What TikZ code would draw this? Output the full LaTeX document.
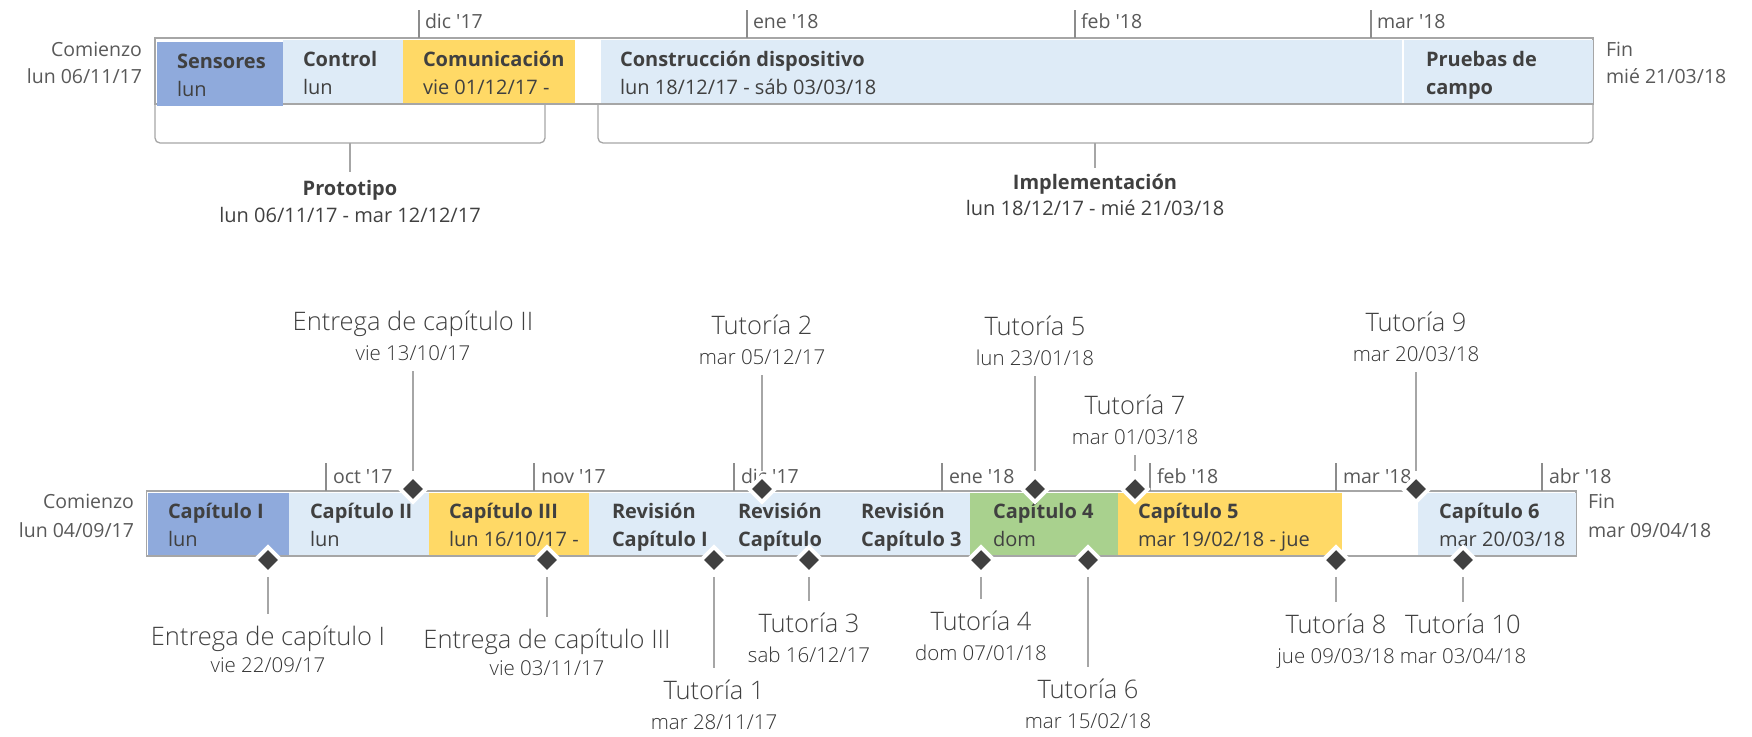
\documentclass[tikz,border=0pt]{standalone}
\usepackage{fontspec}
\setmainfont{Open Sans}[Ligatures=TeXOff]
\newfontfamily\lightfont{Open Sans Light}[Ligatures=TeXOff]
\usetikzlibrary{shapes.geometric}

\definecolor{ink}{HTML}{404040}
\definecolor{softink}{HTML}{595959}
\definecolor{rulegray}{HTML}{A6A6A6}
\definecolor{tickgray}{HTML}{8C8C8C}
\definecolor{msdark}{HTML}{404040}
\definecolor{taskblue}{HTML}{8FAADC}
\definecolor{tasklight}{HTML}{DEEBF7}
\definecolor{taskyellow}{HTML}{FFD966}
\definecolor{taskgreen}{HTML}{A9D18E}

\tikzset{
  every node/.style={text=ink, inner sep=0pt, outer sep=0pt},
  boxtitle/.style={font=\fontsize{20}{24}\selectfont\bfseries, anchor=base west},
  boxsub/.style={font=\fontsize{20}{24}\selectfont, anchor=base west},
  monthlbl/.style={font=\fontsize{19.5}{23}\selectfont, anchor=base west, text=softink},
  sidelbl/.style={font=\fontsize{19.5}{23}\selectfont, text=softink},
  grptitle/.style={font=\fontsize{20}{24}\selectfont\bfseries, anchor=base},
  grpdate/.style={font=\fontsize{20}{24}\selectfont, anchor=base},
  lbltitle/.style={font=\lightfont\fontsize{25.5}{30}\selectfont, anchor=base, text=ink},
  lbldate/.style={font=\lightfont\fontsize{20.5}{24}\selectfont, anchor=base, text=black!80},
  milestone/.style={diamond, fill=msdark, draw=white, line width=4pt,
    minimum width=25.7pt, minimum height=25.7pt, inner sep=0pt, outer sep=0pt},
  stemline/.style={draw=rulegray, line width=1.3pt},
  tickline/.style={draw=tickgray, line width=1.3pt},
  frameline/.style={draw=rulegray, line width=1.5pt},
}

\begin{document}
\begin{tikzpicture}[x=1pt, y=-1pt]
\useasboundingbox (0,0) rectangle (1752,736);

%% ---------------- Upper timeline ----------------
\draw[frameline] (155,38) rectangle (1593,104);
\fill[taskblue]   (157,42)  rectangle (283,106);
\fill[tasklight]  (283,40)  rectangle (403,103);
\fill[taskyellow] (403,40)  rectangle (575,103);
\fill[tasklight]  (601,40)  rectangle (1593,103);
\draw[white, line width=1.5pt] (1403,40) -- (1403,103);

% month ticks
\draw[tickline] (419,10) -- (419,38);
\draw[tickline] (747,10) -- (747,38);
\draw[tickline] (1075,10) -- (1075,38);
\draw[tickline] (1371,10) -- (1371,38);
\node[monthlbl] (ua) at (425,28) {dic '17};
\node[monthlbl] (ub) at (753,28) {ene '18};
\node[monthlbl] (uc) at (1081,28) {feb '18};
\node[monthlbl] (ud) at (1377,28) {mar '18};

% start / end
\node[sidelbl, anchor=base east] (us1) at (142,56) {Comienzo};
\node[sidelbl, anchor=base east] (us2) at (142,83) {lun 06/11/17};
\node[sidelbl, anchor=base west] (ue1) at (1606,56) {Fin};
\node[sidelbl, anchor=base west] (ue2) at (1606,83) {mié 21/03/18};

% task texts
\node[boxtitle] (sen) at (177,68) {Sensores};
\node[boxsub]   (senb) at (177,96) {lun};
\node[boxtitle] (con) at (303,66) {Control};
\node[boxsub]   (conb) at (303,94) {lun};
\node[boxtitle] (com) at (423,66) {Comunicación};
\node[boxsub]   (comb) at (423,94) {vie 01/12/17 -};
\node[boxtitle] (cdi) at (620,66) {Construcción dispositivo};
\node[boxsub]   (cdib) at (620,94) {lun 18/12/17 - sáb 03/03/18};
\node[boxtitle] (pru) at (1426,66) {Pruebas de};
\node[boxtitle] (prub) at (1426,94) {campo};

% groups
\draw[frameline, line width=1.3pt, rounded corners=5pt] (155,104) -- (155,143) -- (545,143) -- (545,104);
\draw[frameline, line width=1.3pt, rounded corners=5pt] (598,104) -- (598,143) -- (1593,143) -- (1593,104);
\coordinate (protoc) at (350,143);
\coordinate (implc) at (1095,143);
\node[grptitle] (proto) at (350,195) {Prototipo};
\node[grpdate]  (protod) at (350,222) {lun 06/11/17 - mar 12/12/17};
\node[grptitle] (impl) at (1095,189) {Implementación};
\node[grpdate]  (impld) at (1095,215) {lun 18/12/17 - mié 21/03/18};
\draw[frameline, line width=1.3pt, shorten >=8pt] (protoc) -- (proto.north);
\draw[frameline, line width=1.3pt, shorten >=6pt] (implc) -- (impl.north);

%% ---------------- Lower timeline ----------------
\draw[frameline] (146.5,491) rectangle (1576,556);
\fill[taskblue]   (148,493)  rectangle (289,555);
\fill[tasklight]  (289,493)  rectangle (429,555);
\fill[taskyellow] (429,493)  rectangle (589,555);
\fill[tasklight]  (589,493)  rectangle (970,555);
\fill[taskgreen]  (970,493)  rectangle (1118,555);
\fill[taskyellow] (1118,493) rectangle (1342,555);
\fill[tasklight]  (1418,493) rectangle (1576,555);

% month ticks
\draw[tickline] (326,463) -- (326,491);
\draw[tickline] (534,463) -- (534,491);
\draw[tickline] (734,463) -- (734,491);
\draw[tickline] (942,463) -- (942,491);
\draw[tickline] (1150,463) -- (1150,491);
\draw[tickline] (1336,463) -- (1336,491);
\draw[tickline] (1542,463) -- (1542,491);
\node[monthlbl] (la) at (333,483) {oct '17};
\node[monthlbl] (lb) at (541,483) {nov '17};
\node[monthlbl] (lc) at (741,483) {dic '17};
\node[monthlbl] (ld) at (949,483) {ene '18};
\node[monthlbl] (le) at (1157,483) {feb '18};
\node[monthlbl] (lf) at (1343,483) {mar '18};
\node[monthlbl] (lg) at (1549,483) {abr '18};

% start / end
\node[sidelbl, anchor=base east] (ls1) at (134,508) {Comienzo};
\node[sidelbl, anchor=base east] (ls2) at (134,537) {lun 04/09/17};
\node[sidelbl, anchor=base west] (le1) at (1588,508) {Fin};
\node[sidelbl, anchor=base west] (le2) at (1588,537) {mar 09/04/18};

% task texts
\node[boxtitle] (k1) at (168,518) {Capítulo I};
\node[boxsub]   (k1b) at (168,546) {lun};
\node[boxtitle] (k2) at (310,518) {Capítulo II};
\node[boxsub]   (k2b) at (310,546) {lun};
\node[boxtitle] (k3) at (449,518) {Capítulo III};
\node[boxsub]   (k3b) at (449,546) {lun 16/10/17 -};
\node[boxtitle] (r1) at (612,518) {Revisión};
\node[boxtitle] (r1b) at (612,546) {Capítulo I};
\node[boxtitle] (r2) at (738,518) {Revisión};
\node[boxtitle] (r2b) at (738,546) {Capítulo};
\node[boxtitle] (r3) at (861,518) {Revisión};
\node[boxtitle] (r3b) at (861,546) {Capítulo 3};
\node[boxtitle] (k4) at (993,518) {Capítulo 4};
\node[boxsub]   (k4b) at (993,546) {dom};
\node[boxtitle] (k5) at (1138,518) {Capítulo 5};
\node[boxsub]   (k5b) at (1138,546) {mar 19/02/18 - jue};
\node[boxtitle] (k6) at (1439,518) {Capítulo 6};
\node[boxsub]   (k6b) at (1439,546) {mar 20/03/18};

% milestones above the bar
\node[milestone] (mE2) at (413,489) {};
\node[milestone] (mT2) at (762,489) {};
\node[milestone] (mT5) at (1035,489) {};
\node[milestone] (mT7) at (1135,489) {};
\node[milestone] (mT9) at (1416,489) {};
% milestones below the bar
\node[milestone] (mE1) at (268,560) {};
\node[milestone] (mE3) at (547,560) {};
\node[milestone] (mT1) at (714,560) {};
\node[milestone] (mT3) at (809,560) {};
\node[milestone] (mT4) at (981,560) {};
\node[milestone] (mT6) at (1088,560) {};
\node[milestone] (mT8) at (1336,560) {};
\node[milestone] (mT10) at (1463,560) {};

% labels above
\node[lbltitle] (tE2) at (413,330) {Entrega de capítulo II};
\node[lbldate]  (dE2) at (413,360) {vie 13/10/17};
\node[lbltitle] (tT2) at (762,334) {Tutoría 2};
\node[lbldate]  (dT2) at (762,364) {mar 05/12/17};
\node[lbltitle] (tT5) at (1035,335) {Tutoría 5};
\node[lbldate]  (dT5) at (1035,365) {lun 23/01/18};
\node[lbltitle] (tT7) at (1135,414) {Tutoría 7};
\node[lbldate]  (dT7) at (1135,444) {mar 01/03/18};
\node[lbltitle] (tT9) at (1416,331) {Tutoría 9};
\node[lbldate]  (dT9) at (1416,361) {mar 20/03/18};

% labels below
\node[lbltitle] (tE1) at (268,645) {Entrega de capítulo I};
\node[lbldate]  (dE1) at (268,672) {vie 22/09/17};
\node[lbltitle] (tE3) at (547,648) {Entrega de capítulo III};
\node[lbldate]  (dE3) at (547,675) {vie 03/11/17};
\node[lbltitle] (tT1) at (714,699) {Tutoría 1};
\node[lbldate]  (dT1) at (714,729) {mar 28/11/17};
\node[lbltitle] (tT3) at (809,632) {Tutoría 3};
\node[lbldate]  (dT3) at (809,662) {sab 16/12/17};
\node[lbltitle] (tT4) at (981,630) {Tutoría 4};
\node[lbldate]  (dT4) at (981,660) {dom 07/01/18};
\node[lbltitle] (tT6) at (1088,698) {Tutoría 6};
\node[lbldate]  (dT6) at (1088,728) {mar 15/02/18};
\node[lbltitle] (tT8) at (1336,633) {Tutoría 8};
\node[lbldate]  (dT8) at (1336,663) {jue 09/03/18};
\node[lbltitle] (tT10) at (1463,633) {Tutoría 10};
\node[lbldate]  (dT10) at (1463,663) {mar 03/04/18};

% stems above
\foreach \m in {E2,T2,T5,T7,T9}
  \draw[stemline, shorten <=11pt, shorten >=5pt] (d\m.south) -- (m\m.north);
% stems below
\foreach \m in {E1,E3,T1,T3,T4,T6,T8,T10}
  \draw[stemline, shorten <=4pt, shorten >=11pt] (m\m.south) -- (t\m.north);
\end{tikzpicture}
\end{document}
